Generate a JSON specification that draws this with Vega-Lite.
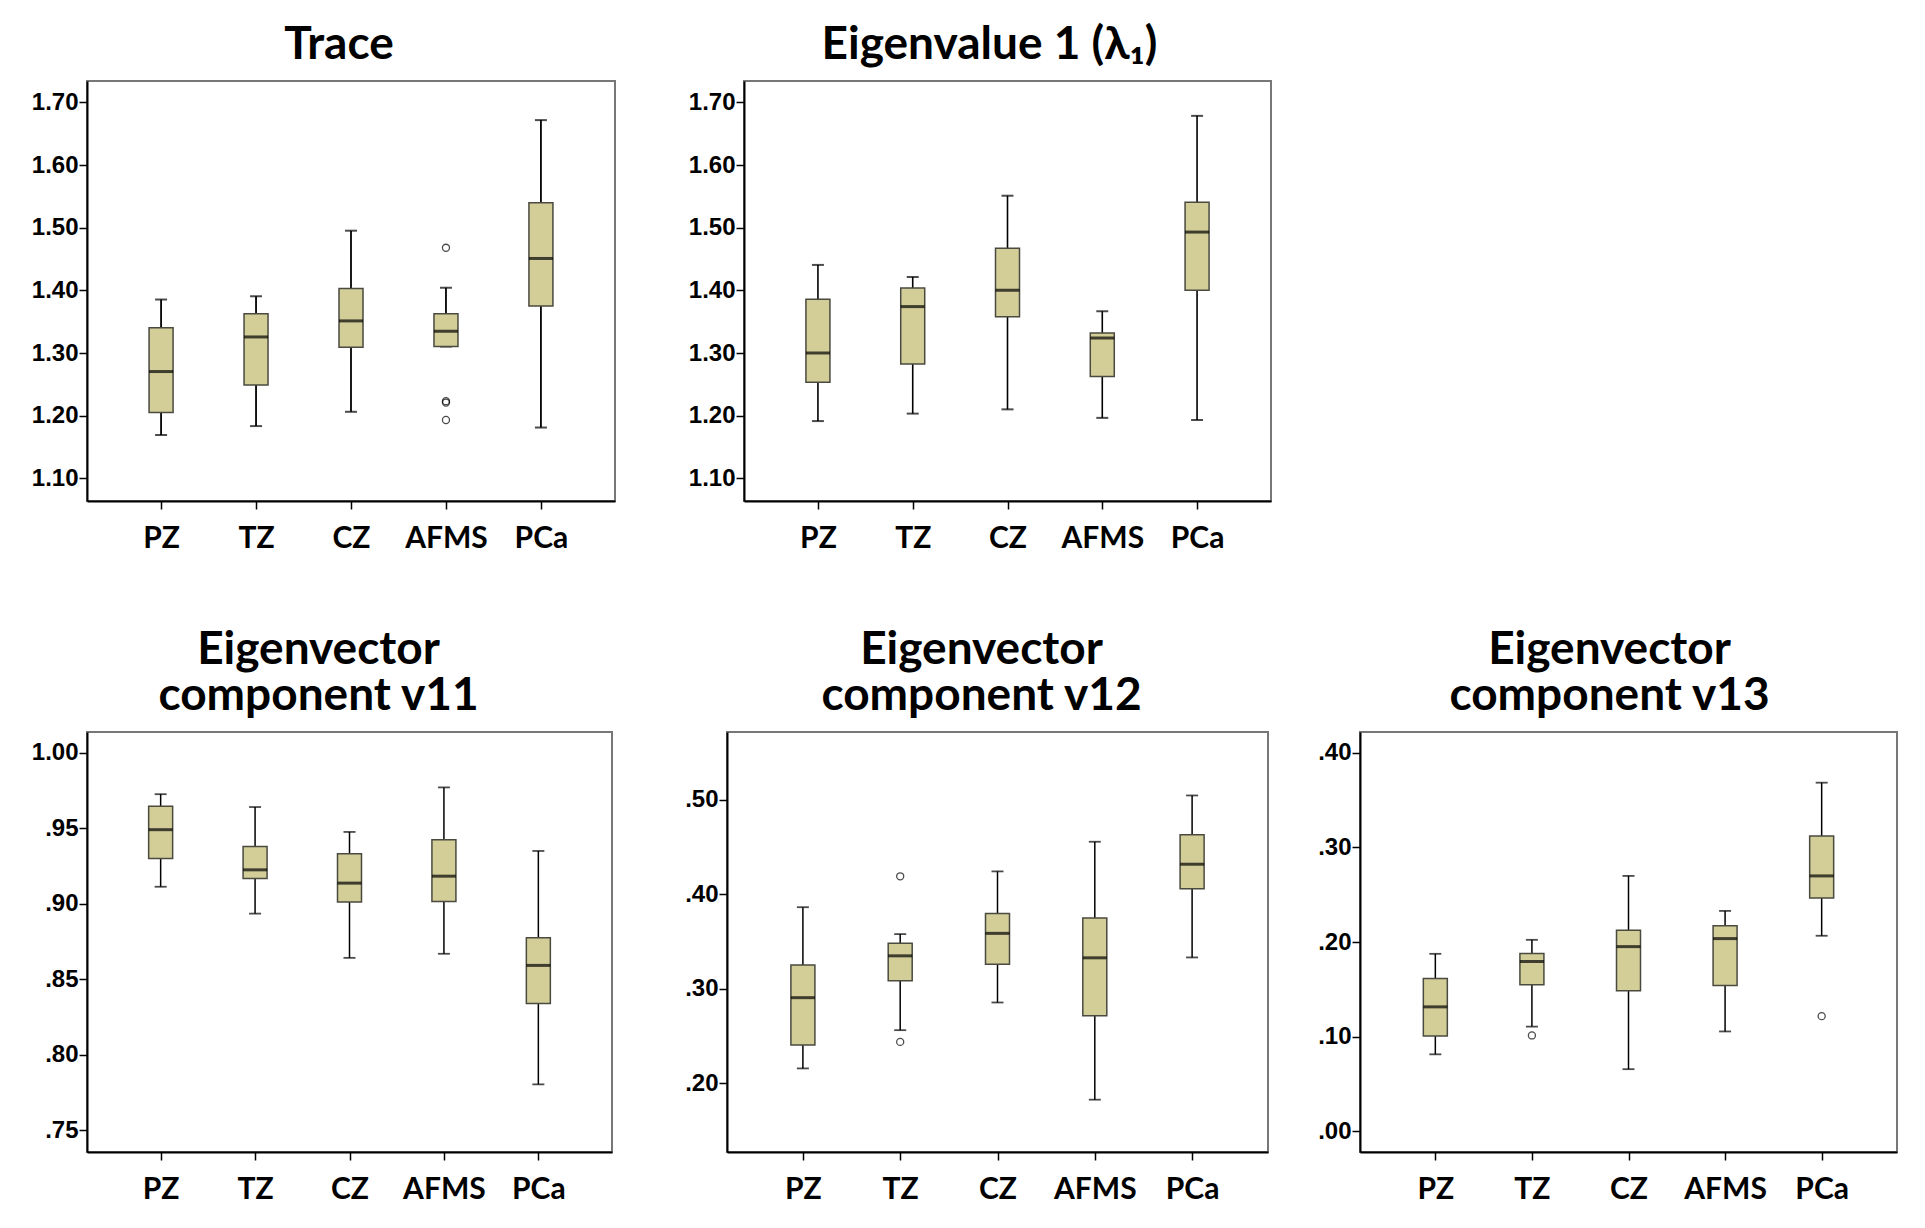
{
  "$schema": "https://vega.github.io/schema/vega-lite/v6.json",
  "padding": {"left": 0, "top": 21, "right": 10, "bottom": 5},
  "background": "white",
  "config": {
    "view": {"stroke": "#777777", "strokeWidth": 2},
    "axisX": {"title": null, "domainColor": "black", "domainWidth": 2, "tickColor": "black", "tickWidth": 1.5, "tickSize": 8, "labelFont": "Lato", "labelFontWeight": "bold", "labelFontSize": 30, "labelColor": "black", "labelPadding": 14, "labelAngle": 0, "minExtent": 62, "maxExtent": 62},
    "axisY": {"title": null, "grid": false, "domainColor": "black", "domainWidth": 2, "tickColor": "black", "tickWidth": 1.5, "tickSize": 8, "labelFont": "Liberation Sans", "labelFontWeight": "bold", "labelFontSize": 24, "labelColor": "black", "labelPadding": 1},
    "title": {"font": "Lato", "fontWeight": "bold", "fontSize": 46, "color": "black", "anchor": "middle", "offset": 12, "lineHeight": 46}
  },
  "datasets": {
    "box": [
      {"panel": "trace", "group": "PZ", "lower": 1.1693, "q1": 1.2051, "median": 1.2705, "q3": 1.3405, "upper": 1.3854},
      {"panel": "trace", "group": "TZ", "lower": 1.1835, "q1": 1.2489, "median": 1.3257, "q3": 1.3627, "upper": 1.3906},
      {"panel": "trace", "group": "CZ", "lower": 1.2063, "q1": 1.3092, "median": 1.3513, "q3": 1.4031, "upper": 1.4952},
      {"panel": "trace", "group": "AFMS", "lower": 1.3104, "q1": 1.3104, "median": 1.3348, "q3": 1.3627, "upper": 1.4042},
      {"panel": "trace", "group": "PCa", "lower": 1.1812, "q1": 1.3752, "median": 1.4509, "q3": 1.5396, "upper": 1.6716},
      {"panel": "eig", "group": "PZ", "lower": 1.1915, "q1": 1.2535, "median": 1.3001, "q3": 1.386, "upper": 1.4406},
      {"panel": "eig", "group": "TZ", "lower": 1.2034, "q1": 1.2825, "median": 1.3741, "q3": 1.4036, "upper": 1.4213},
      {"panel": "eig", "group": "CZ", "lower": 1.2102, "q1": 1.3581, "median": 1.4002, "q3": 1.4673, "upper": 1.551},
      {"panel": "eig", "group": "AFMS", "lower": 1.1966, "q1": 1.2626, "median": 1.324, "q3": 1.332, "upper": 1.3667},
      {"panel": "eig", "group": "PCa", "lower": 1.1932, "q1": 1.4002, "median": 1.493, "q3": 1.5407, "upper": 1.6784},
      {"panel": "v11", "group": "PZ", "lower": 0.9113, "q1": 0.93, "median": 0.9491, "q3": 0.9646, "upper": 0.9726},
      {"panel": "v11", "group": "TZ", "lower": 0.8935, "q1": 0.9167, "median": 0.9225, "q3": 0.938, "upper": 0.9641},
      {"panel": "v11", "group": "CZ", "lower": 0.8642, "q1": 0.9012, "median": 0.9137, "q3": 0.9332, "upper": 0.9476},
      {"panel": "v11", "group": "AFMS", "lower": 0.8669, "q1": 0.9015, "median": 0.9183, "q3": 0.9425, "upper": 0.9771},
      {"panel": "v11", "group": "PCa", "lower": 0.7804, "q1": 0.8339, "median": 0.8592, "q3": 0.8775, "upper": 0.935},
      {"panel": "v12", "group": "PZ", "lower": 0.2157, "q1": 0.2404, "median": 0.2906, "q3": 0.3251, "upper": 0.3864},
      {"panel": "v12", "group": "TZ", "lower": 0.2562, "q1": 0.3085, "median": 0.3349, "q3": 0.3481, "upper": 0.3579},
      {"panel": "v12", "group": "CZ", "lower": 0.2855, "q1": 0.326, "median": 0.3587, "q3": 0.3796, "upper": 0.4243},
      {"panel": "v12", "group": "AFMS", "lower": 0.1826, "q1": 0.2715, "median": 0.3328, "q3": 0.3749, "upper": 0.4557},
      {"panel": "v12", "group": "PCa", "lower": 0.3332, "q1": 0.406, "median": 0.4319, "q3": 0.463, "upper": 0.5047},
      {"panel": "v13", "group": "PZ", "lower": 0.0812, "q1": 0.1007, "median": 0.1314, "q3": 0.1615, "upper": 0.1875},
      {"panel": "v13", "group": "TZ", "lower": 0.1105, "q1": 0.1547, "median": 0.1794, "q3": 0.1879, "upper": 0.2023},
      {"panel": "v13", "group": "CZ", "lower": 0.0655, "q1": 0.1484, "median": 0.1951, "q3": 0.2125, "upper": 0.2699},
      {"panel": "v13", "group": "AFMS", "lower": 0.1054, "q1": 0.1539, "median": 0.2036, "q3": 0.2172, "upper": 0.2329},
      {"panel": "v13", "group": "PCa", "lower": 0.2066, "q1": 0.2465, "median": 0.2699, "q3": 0.312, "upper": 0.3685}
    ],
    "out": [
      {"panel": "trace", "group": "AFMS", "value": 1.4679},
      {"panel": "trace", "group": "AFMS", "value": 1.2233},
      {"panel": "trace", "group": "AFMS", "value": 1.221},
      {"panel": "trace", "group": "AFMS", "value": 1.1932},
      {"panel": "v12", "group": "TZ", "value": 0.4191},
      {"panel": "v12", "group": "TZ", "value": 0.2438},
      {"panel": "v13", "group": "TZ", "value": 0.1012},
      {"panel": "v13", "group": "PCa", "value": 0.1216}
    ]
  },
  "vconcat": [
    {
      "hconcat": [
        {
          "width": 528, "height": 420,
          "title": {"text": "Trace", "dx": -12},
          "encoding": {"x": {"field": "group", "type": "nominal", "sort": ["PZ", "TZ", "CZ", "AFMS", "PCa"], "scale": {"type": "point", "padding": 0.78}, "axis": {}}},
          "layer": [
            {"data": {"name": "box"}, "transform": [{"filter": "datum.panel === 'trace'"}], "mark": {"type": "rule", "color": "black", "strokeWidth": 1.8},
             "encoding": {"y": {"field": "lower", "type": "quantitative", "scale": {"domain": [1.064, 1.734], "nice": false, "zero": false}, "axis": {"values": [1.1, 1.2, 1.3, 1.4, 1.5, 1.6, 1.7], "format": ".2f", "minExtent": 80, "maxExtent": 80}}, "y2": {"field": "upper"}}},
            {"data": {"name": "box"}, "transform": [{"filter": "datum.panel === 'trace'"}], "mark": {"type": "tick", "color": "black", "size": 12, "thickness": 2}, "encoding": {"y": {"field": "upper", "type": "quantitative"}}},
            {"data": {"name": "box"}, "transform": [{"filter": "datum.panel === 'trace'"}], "mark": {"type": "tick", "color": "black", "size": 12, "thickness": 2}, "encoding": {"y": {"field": "lower", "type": "quantitative"}}},
            {"data": {"name": "box"}, "transform": [{"filter": "datum.panel === 'trace'"}], "mark": {"type": "bar", "width": 24, "fill": "#d3ce98", "stroke": "#4a4a40", "strokeWidth": 1.5}, "encoding": {"y": {"field": "q1", "type": "quantitative"}, "y2": {"field": "q3"}}},
            {"data": {"name": "box"}, "transform": [{"filter": "datum.panel === 'trace'"}], "mark": {"type": "tick", "color": "black", "size": 24, "thickness": 3}, "encoding": {"y": {"field": "median", "type": "quantitative"}}},
            {"data": {"name": "out"}, "transform": [{"filter": "datum.panel === 'trace'"}], "mark": {"type": "point", "shape": "circle", "filled": false, "color": "black", "size": 50, "strokeWidth": 1.3}, "encoding": {"y": {"field": "value", "type": "quantitative"}}}
          ]
        },
        {
          "width": 527, "height": 420,
          "title": {"text": "Eigenvalue 1 (λ₁)", "dx": -18},
          "encoding": {"x": {"field": "group", "type": "nominal", "sort": ["PZ", "TZ", "CZ", "AFMS", "PCa"], "scale": {"type": "point", "padding": 0.78}, "axis": {}}},
          "layer": [
            {"data": {"name": "box"}, "transform": [{"filter": "datum.panel === 'eig'"}], "mark": {"type": "rule", "color": "black", "strokeWidth": 1.6},
             "encoding": {"y": {"field": "lower", "type": "quantitative", "scale": {"domain": [1.064, 1.734], "nice": false, "zero": false}, "axis": {"values": [1.1, 1.2, 1.3, 1.4, 1.5, 1.6, 1.7], "format": ".2f", "minExtent": 60, "maxExtent": 60}}, "y2": {"field": "upper"}}},
            {"data": {"name": "box"}, "transform": [{"filter": "datum.panel === 'eig'"}], "mark": {"type": "tick", "color": "black", "size": 12, "thickness": 2}, "encoding": {"y": {"field": "upper", "type": "quantitative"}}},
            {"data": {"name": "box"}, "transform": [{"filter": "datum.panel === 'eig'"}], "mark": {"type": "tick", "color": "black", "size": 12, "thickness": 2}, "encoding": {"y": {"field": "lower", "type": "quantitative"}}},
            {"data": {"name": "box"}, "transform": [{"filter": "datum.panel === 'eig'"}], "mark": {"type": "bar", "width": 24, "fill": "#d3ce98", "stroke": "#4a4a40", "strokeWidth": 1.5}, "encoding": {"y": {"field": "q1", "type": "quantitative"}, "y2": {"field": "q3"}}},
            {"data": {"name": "box"}, "transform": [{"filter": "datum.panel === 'eig'"}], "mark": {"type": "tick", "color": "black", "size": 24, "thickness": 3}, "encoding": {"y": {"field": "median", "type": "quantitative"}}}
          ]
        }
      ],
      "spacing": 67
    },
    {
      "hconcat": [
        {
          "width": 525, "height": 420,
          "title": {"text": ["Eigenvector", "component  v11"], "dx": -31},
          "encoding": {"x": {"field": "group", "type": "nominal", "sort": ["PZ", "TZ", "CZ", "AFMS", "PCa"], "scale": {"type": "point", "padding": 0.78}, "axis": {}}},
          "layer": [
            {"data": {"name": "box"}, "transform": [{"filter": "datum.panel === 'v11'"}], "mark": {"type": "rule", "color": "black", "strokeWidth": 1.5},
             "encoding": {"y": {"field": "lower", "type": "quantitative", "scale": {"domain": [0.7356, 1.0138], "nice": false, "zero": false}, "axis": {"values": [0.75, 0.8, 0.85, 0.9, 0.95, 1.0], "labelExpr": "datum.value >= 1 ? format(datum.value, '.2f') : substring(format(datum.value, '.2f'), 1)", "minExtent": 86, "maxExtent": 86}}, "y2": {"field": "upper"}}},
            {"data": {"name": "box"}, "transform": [{"filter": "datum.panel === 'v11'"}], "mark": {"type": "tick", "color": "black", "size": 12, "thickness": 1.8}, "encoding": {"y": {"field": "upper", "type": "quantitative"}}},
            {"data": {"name": "box"}, "transform": [{"filter": "datum.panel === 'v11'"}], "mark": {"type": "tick", "color": "black", "size": 12, "thickness": 1.8}, "encoding": {"y": {"field": "lower", "type": "quantitative"}}},
            {"data": {"name": "box"}, "transform": [{"filter": "datum.panel === 'v11'"}], "mark": {"type": "bar", "width": 24, "fill": "#d3ce98", "stroke": "#4a4a40", "strokeWidth": 1.5}, "encoding": {"y": {"field": "q1", "type": "quantitative"}, "y2": {"field": "q3"}}},
            {"data": {"name": "box"}, "transform": [{"filter": "datum.panel === 'v11'"}], "mark": {"type": "tick", "color": "black", "size": 24, "thickness": 3}, "encoding": {"y": {"field": "median", "type": "quantitative"}}}
          ]
        },
        {
          "width": 541, "height": 420,
          "title": {"text": ["Eigenvector", "component  v12"], "dx": -16},
          "encoding": {"x": {"field": "group", "type": "nominal", "sort": ["PZ", "TZ", "CZ", "AFMS", "PCa"], "scale": {"type": "point", "padding": 0.78}, "axis": {}}},
          "layer": [
            {"data": {"name": "box"}, "transform": [{"filter": "datum.panel === 'v12'"}], "mark": {"type": "rule", "color": "black", "strokeWidth": 1.5},
             "encoding": {"y": {"field": "lower", "type": "quantitative", "scale": {"domain": [0.1272, 0.5719], "nice": false, "zero": false}, "axis": {"values": [0.2, 0.3, 0.4, 0.5], "labelExpr": "datum.value >= 1 ? format(datum.value, '.2f') : substring(format(datum.value, '.2f'), 1)", "minExtent": 83, "maxExtent": 83}}, "y2": {"field": "upper"}}},
            {"data": {"name": "box"}, "transform": [{"filter": "datum.panel === 'v12'"}], "mark": {"type": "tick", "color": "black", "size": 12, "thickness": 1.8}, "encoding": {"y": {"field": "upper", "type": "quantitative"}}},
            {"data": {"name": "box"}, "transform": [{"filter": "datum.panel === 'v12'"}], "mark": {"type": "tick", "color": "black", "size": 12, "thickness": 1.8}, "encoding": {"y": {"field": "lower", "type": "quantitative"}}},
            {"data": {"name": "box"}, "transform": [{"filter": "datum.panel === 'v12'"}], "mark": {"type": "bar", "width": 24, "fill": "#d3ce98", "stroke": "#4a4a40", "strokeWidth": 1.5}, "encoding": {"y": {"field": "q1", "type": "quantitative"}, "y2": {"field": "q3"}}},
            {"data": {"name": "box"}, "transform": [{"filter": "datum.panel === 'v12'"}], "mark": {"type": "tick", "color": "black", "size": 24, "thickness": 3}, "encoding": {"y": {"field": "median", "type": "quantitative"}}},
            {"data": {"name": "out"}, "transform": [{"filter": "datum.panel === 'v12'"}], "mark": {"type": "point", "shape": "circle", "filled": false, "color": "black", "size": 50, "strokeWidth": 1.3}, "encoding": {"y": {"field": "value", "type": "quantitative"}}}
          ]
        },
        {
          "width": 537, "height": 420,
          "title": {"text": ["Eigenvector", "component  v13"], "dx": -19},
          "encoding": {"x": {"field": "group", "type": "nominal", "sort": ["PZ", "TZ", "CZ", "AFMS", "PCa"], "scale": {"type": "point", "padding": 0.78}, "axis": {}}},
          "layer": [
            {"data": {"name": "box"}, "transform": [{"filter": "datum.panel === 'v13'"}], "mark": {"type": "rule", "color": "black", "strokeWidth": 1.5},
             "encoding": {"y": {"field": "lower", "type": "quantitative", "scale": {"domain": [-0.0221, 0.4221], "nice": false, "zero": false}, "axis": {"values": [0, 0.1, 0.2, 0.3, 0.4], "labelExpr": "datum.value >= 1 ? format(datum.value, '.2f') : substring(format(datum.value, '.2f'), 1)", "minExtent": 60, "maxExtent": 60}}, "y2": {"field": "upper"}}},
            {"data": {"name": "box"}, "transform": [{"filter": "datum.panel === 'v13'"}], "mark": {"type": "tick", "color": "black", "size": 12, "thickness": 1.8}, "encoding": {"y": {"field": "upper", "type": "quantitative"}}},
            {"data": {"name": "box"}, "transform": [{"filter": "datum.panel === 'v13'"}], "mark": {"type": "tick", "color": "black", "size": 12, "thickness": 1.8}, "encoding": {"y": {"field": "lower", "type": "quantitative"}}},
            {"data": {"name": "box"}, "transform": [{"filter": "datum.panel === 'v13'"}], "mark": {"type": "bar", "width": 24, "fill": "#d3ce98", "stroke": "#4a4a40", "strokeWidth": 1.5}, "encoding": {"y": {"field": "q1", "type": "quantitative"}, "y2": {"field": "q3"}}},
            {"data": {"name": "box"}, "transform": [{"filter": "datum.panel === 'v13'"}], "mark": {"type": "tick", "color": "black", "size": 24, "thickness": 3}, "encoding": {"y": {"field": "median", "type": "quantitative"}}},
            {"data": {"name": "out"}, "transform": [{"filter": "datum.panel === 'v13'"}], "mark": {"type": "point", "shape": "circle", "filled": false, "color": "black", "size": 50, "strokeWidth": 1.3}, "encoding": {"y": {"field": "value", "type": "quantitative"}}}
          ]
        }
      ],
      "spacing": 30
    }
  ],
  "spacing": 62
}
